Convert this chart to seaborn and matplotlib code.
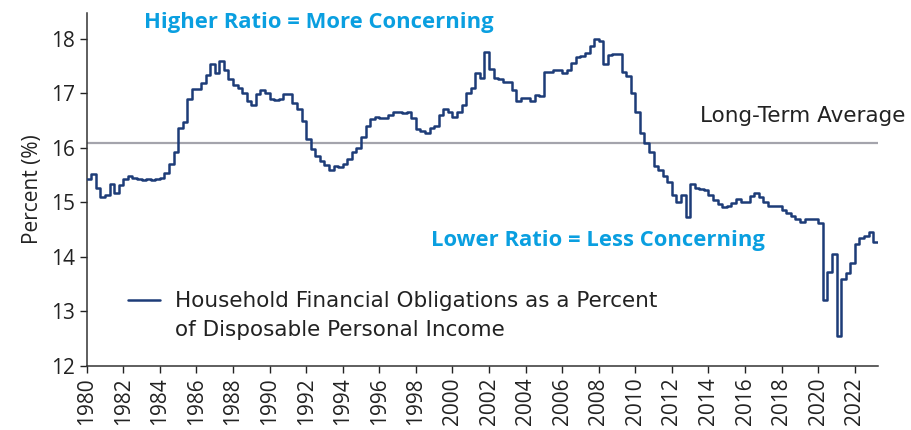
import numpy as np
import pandas as pd
import matplotlib
matplotlib.use("Agg")
import matplotlib.pyplot as plt
from matplotlib.lines import Line2D
import seaborn as sns

# Household financial obligations ratio, quarterly, 1980Q1 - 2023Q1
fo_1980s = [
    15.42, 15.51, 15.27, 15.10,   # 1980
    15.14, 15.33, 15.17, 15.32,   # 1981
    15.43, 15.49, 15.44, 15.43,   # 1982
    15.40, 15.42, 15.40, 15.42,   # 1983
    15.44, 15.54, 15.70, 15.93,   # 1984
    16.37, 16.48, 16.89, 17.08,   # 1985
    17.08, 17.19, 17.34, 17.54,   # 1986
    17.38, 17.60, 17.42, 17.26,   # 1987
    17.15, 17.09, 17.01, 16.85,   # 1988
    16.79, 16.98, 17.06, 17.01,   # 1989
]
fo_1990s = [
    16.89, 16.88, 16.89, 16.98,   # 1990
    16.98, 16.83, 16.71, 16.49,   # 1991
    16.16, 15.97, 15.84, 15.76,   # 1992
    15.68, 15.60, 15.67, 15.65,   # 1993
    15.70, 15.79, 15.93, 15.99,   # 1994
    16.19, 16.40, 16.53, 16.57,   # 1995
    16.55, 16.55, 16.60, 16.66,   # 1996
    16.66, 16.63, 16.66, 16.55,   # 1997
    16.34, 16.31, 16.27, 16.36,   # 1998
    16.40, 16.60, 16.71, 16.66,   # 1999
]
fo_2000s = [
    16.57, 16.66, 16.79, 17.00,   # 2000
    17.09, 17.38, 17.28, 17.76,   # 2001
    17.44, 17.28, 17.26, 17.20,   # 2002
    17.20, 17.06, 16.85, 16.92,   # 2003
    16.92, 16.85, 16.97, 16.95,   # 2004
    17.40, 17.40, 17.42, 17.42,   # 2005
    17.37, 17.42, 17.55, 17.66,   # 2006
    17.69, 17.74, 17.87, 18.00,   # 2007
    17.97, 17.53, 17.71, 17.72,   # 2008
    17.72, 17.39, 17.32, 17.00,   # 2009
]
fo_2010s = [
    16.66, 16.27, 16.08, 15.93,   # 2010
    15.67, 15.59, 15.48, 15.38,   # 2011
    15.13, 15.01, 15.13, 14.73,   # 2012
    15.33, 15.27, 15.24, 15.22,   # 2013
    15.13, 15.04, 14.96, 14.91,   # 2014
    14.93, 14.98, 15.05, 15.01,   # 2015
    15.01, 15.11, 15.17, 15.10,   # 2016
    15.01, 14.93, 14.93, 14.93,   # 2017
    14.86, 14.80, 14.75, 14.70,   # 2018
    14.64, 14.70, 14.70, 14.70,   # 2019
]
fo_2020s = [
    14.61, 13.21, 13.71, 14.05,   # 2020
    12.54, 13.58, 13.70, 13.88,   # 2021
    14.24, 14.34, 14.38, 14.45,   # 2022
    14.27,                        # 2023
]
long_term_avg = 16.08
start_year = 1980

y_ticks = [12, 13, 14, 15, 16, 17, 18]
x_ticks = list(range(1980, 2023, 2))

series_label = ["Household Financial Obligations as a Percent", "of Disposable Personal Income"]
avg_label = "Long-Term Average"
high_note = "Higher Ratio = More Concerning"
low_note = "Lower Ratio = Less Concerning"

NAVY = "#1d3c78"
GREY = "#a4a4ac"
BLUE = "#0a9fe0"
TEXT = "#222222"
FS = 15

values = fo_1980s + fo_1990s + fo_2000s + fo_2010s + fo_2020s
# step chart: repeat last value so the final quarter gets its width
df = pd.DataFrame({
    "year": start_year + np.arange(len(values) + 1) / 4.0,
    "ratio": values + values[-1:],
})

sns.set_theme(style="ticks")
plt.rcParams["font.family"] = ["Open Sans", "DejaVu Sans"]

fig = plt.figure(figsize=(9.11, 4.30), dpi=100)
ax = fig.add_axes([0.0952, 0.150, 0.8682, 0.8203])

ax.axhline(long_term_avg, color=GREY, lw=1.6, zorder=1)
sns.lineplot(data=df, x="year", y="ratio", ax=ax, color=NAVY, lw=1.8,
             drawstyle="steps-post", zorder=3)

ax.set_xlim(start_year, df["year"].iloc[-1])
ax.set_ylim(12, 18.48)
ax.set_yticks(y_ticks)
ax.set_xticks(x_ticks)
ax.set_xticklabels([str(t) for t in x_ticks], rotation=90)
ax.tick_params(axis="both", labelsize=FS, colors=TEXT, length=5, width=1, direction="out")
ax.set_xlabel("")
ax.set_ylabel("Percent (%)", fontsize=FS, color=TEXT, labelpad=6)
sns.despine(ax=ax)
for side in ["left", "bottom"]:
    ax.spines[side].set_color("#333333")
    ax.spines[side].set_linewidth(1.1)

ax.text(1983.15, 18.31, high_note, color=BLUE, fontsize=15.8, fontweight="bold", va="center", ha="left")
ax.text(1998.85, 14.30, low_note, color=BLUE, fontsize=15.8, fontweight="bold", va="center", ha="left")
ax.text(2024.75, 16.58, avg_label, color=TEXT, fontsize=15.5, va="center", ha="right",
        family="DejaVu Sans", clip_on=False)

# legend: handle sits on the first line of the two-line label
handles = [Line2D([], [], color=NAVY, lw=1.8), Line2D([], [], color="none")]
leg = ax.legend(handles, series_label, loc="upper left", bbox_to_anchor=(0.052, 0.21),
                frameon=False, prop={"family": "DejaVu Sans", "size": 15.5},
                handlelength=1.5, handletextpad=0.7, labelspacing=0.4,
                borderpad=0, borderaxespad=0)
for t in leg.get_texts():
    t.set_color(TEXT)

fig.savefig("out.png", dpi=100)
plt.close(fig)
